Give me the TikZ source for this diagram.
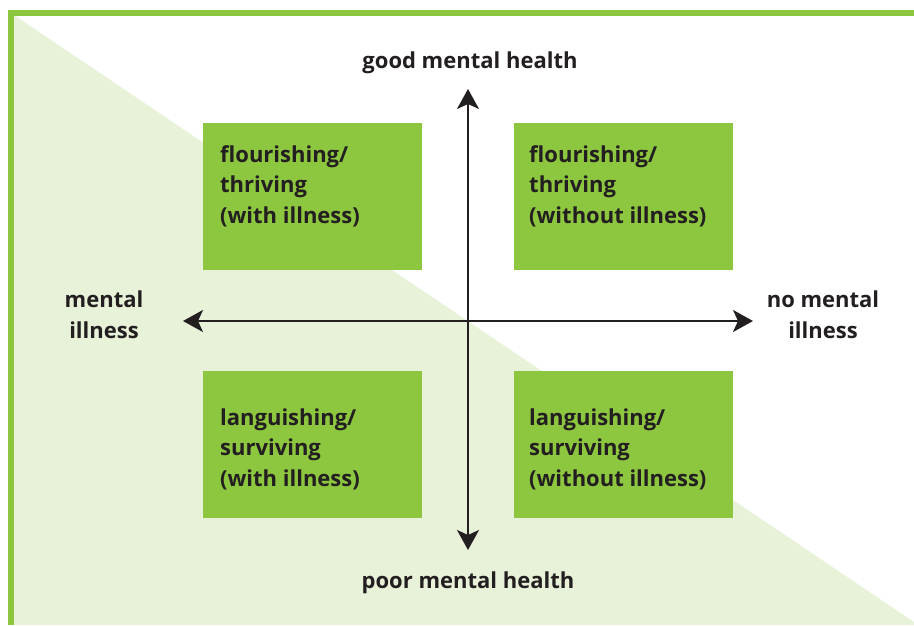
\documentclass[tikz,border=0pt]{standalone}
\usepackage{fontspec}
\setmainfont{Open Sans}
\usetikzlibrary{arrows.meta}
\definecolor{boxgreen}{HTML}{8DC63F}
\definecolor{palegreen}{HTML}{E8F2D9}
\definecolor{ink}{HTML}{231F20}
\tikzset{
  quad/.style={fill=boxgreen, draw=none, minimum width=219pt, minimum height=147pt, inner sep=0pt, anchor=north west},
  qtext/.style={anchor=base west, align=left, text=ink, font=\fontsize{22}{30.5}\selectfont\bfseries, inner sep=0pt},
  axlabel/.style={anchor=base, align=center, text=ink, font=\fontsize{22}{30.5}\selectfont\bfseries, inner sep=0pt},
  axis/.style={draw=ink, line width=2pt, {Stealth[length=20pt,width=22pt,inset=5pt]}-{Stealth[length=20pt,width=22pt,inset=5pt]}}
}
\begin{document}
\begin{tikzpicture}[x=1pt,y=-1pt]
\useasboundingbox (0,0) rectangle (914,625);
% background triangle
\fill[palegreen] (14,15) -- (914,622) -- (914,625) -- (14,625) -- cycle;
% border
\fill[boxgreen] (8,10) rectangle (914,16);
\fill[boxgreen] (8,10) rectangle (14,625);
% quadrants
\node[quad] (q1) at (203,123) {};
\node[quad] (q2) at (514,123) {};
\node[quad] (q3) at (203,371) {};
\node[quad] (q4) at (514,371) {};
% texts (base anchor = last line)
\node[qtext] (t1) at (220,223) {flourishing/\\thriving\\(with illness)};
\node[qtext] (t2) at (529,223) {flourishing/\\thriving\\(without illness)};
\node[qtext] (t3) at (220,486) {languishing/\\surviving\\(with illness)};
\node[qtext] (t4) at (529,486) {languishing/\\surviving\\(without illness)};
% axes
\coordinate (top) at (468,89);
\coordinate (bot) at (468,550);
\coordinate (lft) at (183,321);
\coordinate (rgt) at (753,321);
\draw[axis] (lft) -- (rgt);
\draw[axis] (top) -- (bot);
% labels
\node[axlabel] (good) at (470,68) {good mental health};
\node[axlabel] (poor) at (468,588) {poor mental health};
\node[axlabel] (mi) at (104,338) {mental\\illness};
\node[axlabel] (nmi) at (823,338) {no mental\\illness};
\end{tikzpicture}
\end{document}
